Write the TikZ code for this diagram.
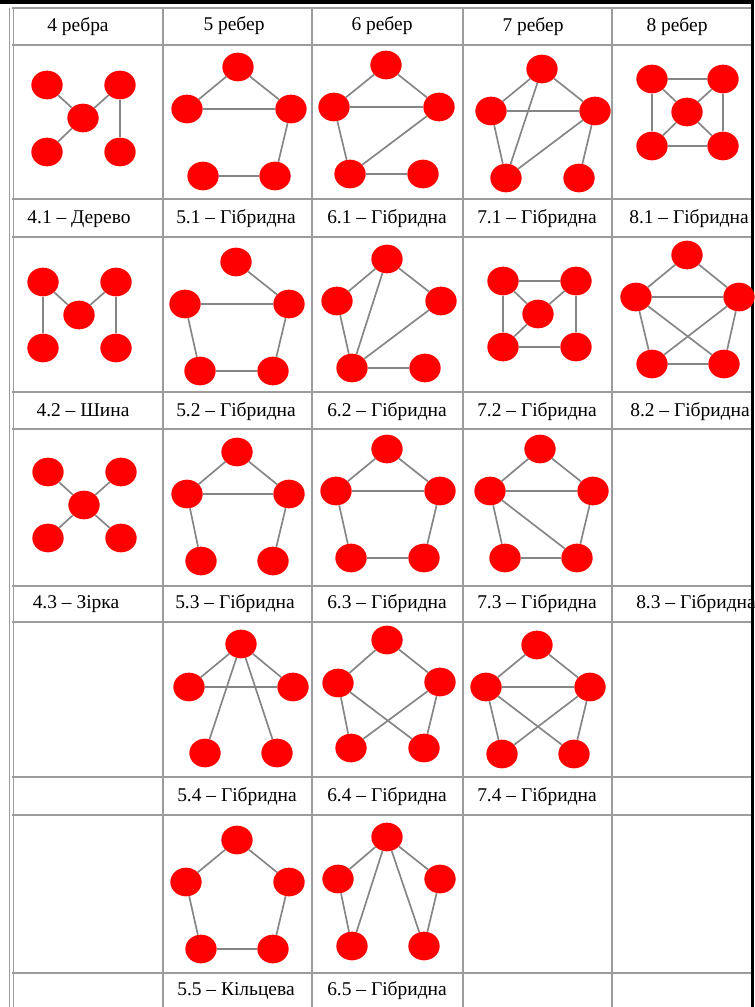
\documentclass[tikz,border=0pt]{standalone}
\usepackage{fontspec}
\setmainfont{Liberation Serif}
\usetikzlibrary{shapes.geometric}
\definecolor{vtxred}{HTML}{FF0000}
\definecolor{linkgray}{HTML}{858585}
\definecolor{rulegray}{HTML}{9C9C9C}
\begin{document}
\begin{tikzpicture}[x=0.75pt, y=-0.75pt,
  vtx/.style={ellipse, fill=vtxred, draw=none, minimum width=23.5pt, minimum height=21.5pt, inner sep=0pt},
  link/.style={draw=linkgray, line width=1.25pt},
  tableline/.style={draw=rulegray, line width=1.1pt},
  lbl/.style={font=\fontsize{14.6}{17}\selectfont, inner sep=0pt, text height=9.8pt, text depth=3pt}]
\useasboundingbox (0,0) rectangle (754,1007);
\fill[white] (0,0) rectangle (754,1007);
% table rules
\foreach \y in {8,45,199,237,392,429,586,622,777,815,973}
  \draw[tableline] (12,\y) -- (754,\y);
\foreach \x in {163,312,463,612}
  \draw[tableline] (\x,8) -- (\x,1007);
\draw[tableline] (9.5,8) -- (9.5,1007);
\draw[tableline] (13.5,8) -- (13.5,1007);
\fill[black] (0,0) rectangle (754,4);
\fill[black] (751,0) rectangle (754,1007);
% header
\node[lbl] (h4) at (78,27) {4 ребра};
\node[lbl] (h5) at (234,26) {5 ребер};
\node[lbl] (h6) at (382,26) {6 ребер};
\node[lbl] (h7) at (533,27) {7 ребер};
\node[lbl] (h8) at (677,27) {8 ребер};
% captions
\node[lbl] (c41) at (79,219) {4.1 – Дерево};
\node[lbl] (c51) at (236,219) {5.1 – Гібридна};
\node[lbl] (c61) at (387,219) {6.1 – Гібридна};
\node[lbl] (c71) at (537,219) {7.1 – Гібридна};
\node[lbl] (c81) at (689,219) {8.1 – Гібридна};
\node[lbl] (c42) at (83,412) {4.2 – Шина};
\node[lbl] (c52) at (236,412) {5.2 – Гібридна};
\node[lbl] (c62) at (387,412) {6.2 – Гібридна};
\node[lbl] (c72) at (537,412) {7.2 – Гібридна};
\node[lbl] (c82) at (690,412) {8.2 – Гібридна};
\node[lbl] (c43) at (76,604) {4.3 – Зірка};
\node[lbl] (c53) at (235,604) {5.3 – Гібридна};
\node[lbl] (c63) at (387,604) {6.3 – Гібридна};
\node[lbl] (c73) at (537,604) {7.3 – Гібридна};
\node[lbl] (c83) at (696,604) {8.3 – Гібридна};
\node[lbl] (c54) at (237,797) {5.4 – Гібридна};
\node[lbl] (c64) at (387,797) {6.4 – Гібридна};
\node[lbl] (c74) at (537,797) {7.4 – Гібридна};
\node[lbl] (c55) at (236,991) {5.5 – Кільцева};
\node[lbl] (c65) at (387,991) {6.5 – Гібридна};
% row 1
\foreach \n/\x/\y in {tl/47/85, tr/120/85, c/83/118, bl/47/152, br/120/152}
  \node[vtx] (g41\n) at (\x,\y) {};
\foreach \a/\b in {tl/c, tr/c, c/bl, tr/br}
  \draw[link] (g41\a) -- (g41\b);
\foreach \n/\x/\y in {t/238/67, l/187/109, r/291/109, bl/203/176, br/275/176}
  \node[vtx] (g51\n) at (\x,\y) {};
\foreach \a/\b in {t/l, t/r, l/r, r/br, bl/br}
  \draw[link] (g51\a) -- (g51\b);
\foreach \n/\x/\y in {t/386/65, l/334/107, r/439/107, bl/350/174, br/423/174}
  \node[vtx] (g61\n) at (\x,\y) {};
\foreach \a/\b in {t/l, t/r, l/r, l/bl, r/bl, bl/br}
  \draw[link] (g61\a) -- (g61\b);
\foreach \n/\x/\y in {t/542/69, l/491/111, r/595/111, bl/506/178, br/579/178}
  \node[vtx] (g71\n) at (\x,\y) {};
\foreach \a/\b in {t/l, t/r, l/r, t/bl, l/bl, r/bl, r/br}
  \draw[link] (g71\a) -- (g71\b);
\foreach \n/\x/\y in {tl/652/79, tr/723/79, c/687/112, bl/652/146, br/723/146}
  \node[vtx] (g81\n) at (\x,\y) {};
\foreach \a/\b in {tl/tr, bl/br, tl/bl, tr/br, c/tl, c/tr, c/bl, c/br}
  \draw[link] (g81\a) -- (g81\b);
% row 2
\foreach \n/\x/\y in {tl/43/282, tr/116/282, c/79/315, bl/43/348, br/116/348}
  \node[vtx] (g42\n) at (\x,\y) {};
\foreach \a/\b in {tl/c, c/tr, tl/bl, tr/br}
  \draw[link] (g42\a) -- (g42\b);
\foreach \n/\x/\y in {t/236/262, l/185/304, r/289/304, bl/200/371, br/273/371}
  \node[vtx] (g52\n) at (\x,\y) {};
\foreach \a/\b in {t/r, l/r, l/bl, r/br, bl/br}
  \draw[link] (g52\a) -- (g52\b);
\foreach \n/\x/\y in {t/387/259, l/337/301, r/441/301, bl/352/368, br/425/368}
  \node[vtx] (g62\n) at (\x,\y) {};
\foreach \a/\b in {t/l, t/r, l/bl, t/bl, r/bl, bl/br}
  \draw[link] (g62\a) -- (g62\b);
\foreach \n/\x/\y in {tl/503/281, tr/576/281, c/538/314, bl/503/347, br/576/347}
  \node[vtx] (g72\n) at (\x,\y) {};
\foreach \a/\b in {tl/tr, bl/br, tl/bl, tr/br, c/tl, c/tr, c/bl}
  \draw[link] (g72\a) -- (g72\b);
\foreach \n/\x/\y in {t/687/255, l/636/297, r/739/297, bl/652/364, br/724/364}
  \node[vtx] (g82\n) at (\x,\y) {};
\foreach \a/\b in {t/l, t/r, l/r, l/bl, r/br, bl/br, l/br, r/bl}
  \draw[link] (g82\a) -- (g82\b);
% row 3
\foreach \n/\x/\y in {tl/48/472, tr/121/472, c/84/505, bl/48/538, br/121/538}
  \node[vtx] (g43\n) at (\x,\y) {};
\foreach \a/\b in {c/tl, c/tr, c/bl, c/br}
  \draw[link] (g43\a) -- (g43\b);
\foreach \n/\x/\y in {t/237/452, l/187/494, r/289/494, bl/201/561, br/273/561}
  \node[vtx] (g53\n) at (\x,\y) {};
\foreach \a/\b in {t/l, t/r, l/r, l/bl, r/br}
  \draw[link] (g53\a) -- (g53\b);
\foreach \n/\x/\y in {t/387/449, l/336/491, r/440/491, bl/351/558, br/424/558}
  \node[vtx] (g63\n) at (\x,\y) {};
\foreach \a/\b in {t/l, t/r, l/r, l/bl, r/br, bl/br}
  \draw[link] (g63\a) -- (g63\b);
\foreach \n/\x/\y in {t/540/449, l/490/491, r/593/491, bl/505/558, br/577/558}
  \node[vtx] (g73\n) at (\x,\y) {};
\foreach \a/\b in {t/l, t/r, l/r, l/bl, l/br, r/br, bl/br}
  \draw[link] (g73\a) -- (g73\b);
% row 4
\foreach \n/\x/\y in {t/241/644, l/189/687, r/293/687, bl/205/753, br/277/753}
  \node[vtx] (g54\n) at (\x,\y) {};
\foreach \a/\b in {t/l, t/r, l/r, t/bl, t/br}
  \draw[link] (g54\a) -- (g54\b);
\foreach \n/\x/\y in {t/387/640, l/338/683, r/440/682, bl/351/748, br/424/748}
  \node[vtx] (g64\n) at (\x,\y) {};
\foreach \a/\b in {t/l, t/r, l/bl, r/br, l/br, r/bl}
  \draw[link] (g64\a) -- (g64\b);
\foreach \n/\x/\y in {t/537/645, l/486/687, r/590/687, bl/502/754, br/574/754}
  \node[vtx] (g74\n) at (\x,\y) {};
\foreach \a/\b in {t/l, t/r, l/r, l/bl, r/br, l/br, r/bl}
  \draw[link] (g74\a) -- (g74\b);
% row 5
\foreach \n/\x/\y in {t/237/840, l/186/882, r/289/882, bl/201/949, br/273/949}
  \node[vtx] (g55\n) at (\x,\y) {};
\foreach \a/\b in {t/l, t/r, r/br, bl/br, l/bl}
  \draw[link] (g55\a) -- (g55\b);
\foreach \n/\x/\y in {t/387/837, l/338/879, r/440/879, bl/352/946, br/424/946}
  \node[vtx] (g65\n) at (\x,\y) {};
\foreach \a/\b in {t/l, t/r, l/bl, r/br, t/bl, t/br}
  \draw[link] (g65\a) -- (g65\b);
\end{tikzpicture}
\end{document}
